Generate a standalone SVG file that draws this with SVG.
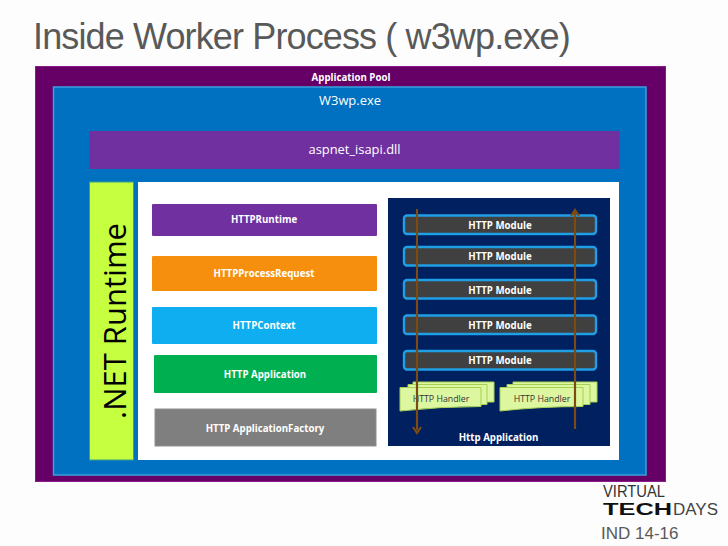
<svg xmlns="http://www.w3.org/2000/svg" width="728" height="546" viewBox="0 0 728 546">
<style>
text{font-family:"Open Sans","Noto Sans",sans-serif;text-anchor:middle}
.b{font-weight:700;fill:#fff;font-size:9.7px}
.w{fill:#fff;font-size:12.900px}
.s{font-family:"Liberation Sans",sans-serif;text-anchor:start}
.mod{fill:#404040;stroke:#1f9fe6;stroke-width:2.400}
.arr{fill:none;stroke:#7d4a12;stroke-width:2.200}
.hd{fill:#dcf7a0;stroke:#a5d055;stroke-width:1}
.ht{font-size:8.800px;fill:#333}
</style>
<rect width="728" height="546" fill="#fdfdfd"/>
<text class="s" x="33" y="49" style="font-size:36px;letter-spacing:-.87px" fill="#595959">Inside Worker Process ( w3wp.exe)</text>
<g id="application-pool">
<rect x="35.500" y="66.500" width="630" height="415" fill="#660066" stroke="#8a1a8a"/>
<text class="b" x="351" y="81">Application Pool</text>
</g>
<g id="w3wp">
<rect x="53.500" y="87" width="592.500" height="388" fill="#0070c0" stroke="#3aa0e0" stroke-width="1.500"/>
<text class="w" x="350" y="105">W3wp.exe</text>
</g>
<g id="aspnet-isapi">
<rect x="89.500" y="131" width="530" height="38" fill="#7030a0"/>
<text class="w" x="354.500" y="154">aspnet_isapi.dll</text>
</g>
<g id="net-runtime">
<rect x="89.500" y="182" width="44" height="278" fill="#c6ff40" stroke="#36a08a"/>
<text transform="translate(126 321) rotate(-90)" style="font-size:31px" fill="#000">.NET Runtime</text>
</g>
<rect id="runtime-panel" x="138" y="182" width="481" height="278" fill="#fff"/>
<g id="httpruntime">
<rect x="152" y="204" width="225" height="32" rx="1" fill="#7030a0"/>
<text class="b" x="264" y="223">HTTPRuntime</text>
</g>
<g id="httpprocessrequest">
<rect x="152" y="256" width="225" height="35" rx="1" fill="#f78f0e"/>
<text class="b" x="264" y="277">HTTPProcessRequest</text>
</g>
<g id="httpcontext">
<rect x="152" y="307" width="225" height="37" rx="1" fill="#0eaef0"/>
<text class="b" x="264" y="329">HTTPContext</text>
</g>
<g id="http-application">
<rect x="154" y="355" width="223" height="38" rx="1" fill="#00b050"/>
<text class="b" x="265" y="378">HTTP Application</text>
</g>
<g id="http-applicationfactory">
<rect x="155" y="409" width="221" height="37" fill="#7f7f7f" stroke="#8f8f8f"/>
<text class="b" x="265" y="432">HTTP ApplicationFactory</text>
</g>
<g id="http-application-panel">
<rect x="388" y="198" width="222" height="248" fill="#002060"/>
<text class="b" x="498.500" y="441">Http Application</text>
</g>
<g id="module-1"><rect class="mod" x="404" y="215.500" width="192" height="18.500" rx="3"/><text class="b" x="500" y="229">HTTP Module</text></g>
<g id="module-2"><rect class="mod" x="404" y="247" width="192" height="18.500" rx="3"/><text class="b" x="500" y="260">HTTP Module</text></g>
<g id="module-3"><rect class="mod" x="404" y="280" width="192" height="18.500" rx="3"/><text class="b" x="500" y="293.500">HTTP Module</text></g>
<g id="module-4"><rect class="mod" x="404" y="315.500" width="192" height="18.500" rx="3"/><text class="b" x="500" y="328.500">HTTP Module</text></g>
<g id="module-5"><rect class="mod" x="404" y="351" width="192" height="18.500" rx="3"/><text class="b" x="500" y="364">HTTP Module</text></g>
<g id="handler-1">
<path class="hd" d="M413 382H494V402H413Z"/>
<path class="hd" d="M408 384.500H487V404.500H408Z"/>
<path class="hd" d="M400 387.500H481V406.500Q440 406.500 400 411Z"/>
<text class="ht" x="441" y="402">HTTP Handler</text>
</g>
<g id="handler-2">
<path class="hd" d="M513 382H597V402H513Z"/>
<path class="hd" d="M507 384.500H590V404.500H507Z"/>
<path class="hd" d="M500 387.500H583V406.500Q540 406.500 500 411Z"/>
<text class="ht" x="542" y="402">HTTP Handler</text>
</g>
<g id="connectors">
<path class="arr" d="M417 209V430"/>
<path class="arr" d="M413 427L417 433L421 427"/>
<path class="arr" d="M575 429V212"/>
<path class="arr" d="M571 216L575 210L579 216"/>
</g>
<g id="logo">
<text class="s" x="603" y="497" textLength="62" lengthAdjust="spacingAndGlyphs" style="font-size:17px" fill="#333">VIRTUAL</text>
<text class="s" x="603" y="515" textLength="69" lengthAdjust="spacingAndGlyphs" style="font-size:17px;font-weight:700" fill="#111">TECH</text>
<text class="s" x="673" y="515" textLength="45" lengthAdjust="spacingAndGlyphs" style="font-size:16px" fill="#444">DAYS</text>
</g>
<text class="s" id="code" x="601" y="539" style="font-size:17px" fill="#595959">IND 14-16</text>
</svg>
